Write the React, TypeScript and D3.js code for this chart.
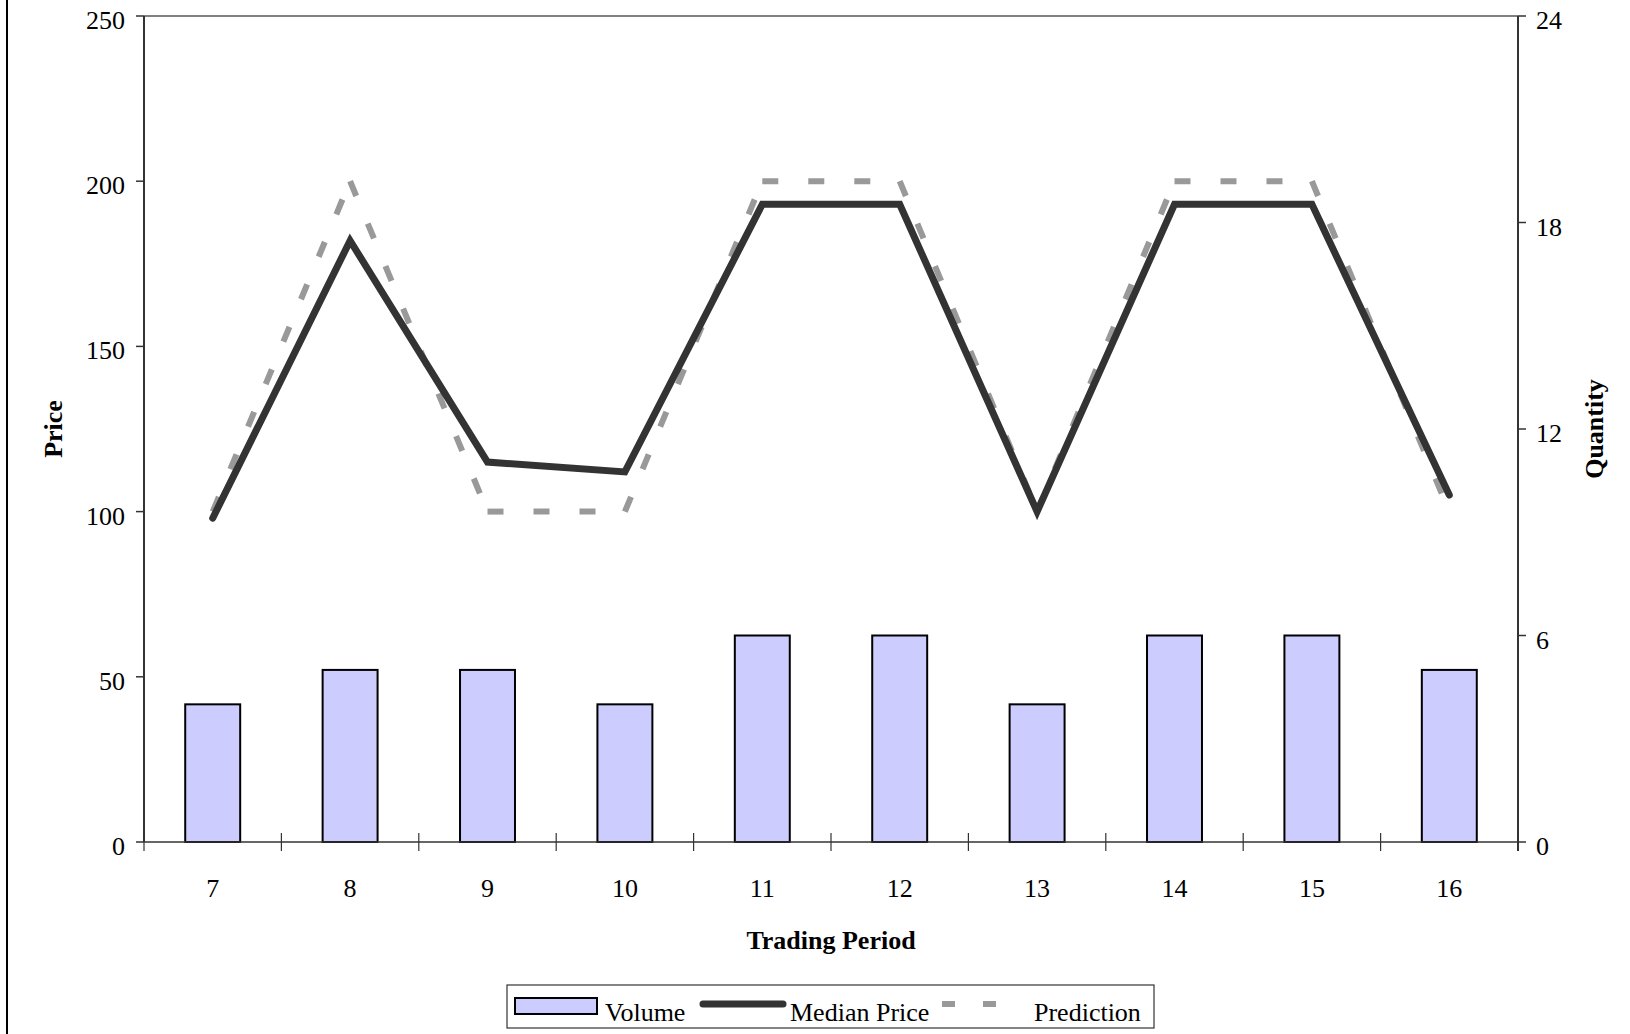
import React from "react";
import * as d3 from "d3";

// Trading periods shown on the category axis
const periods: number[] = [7, 8, 9, 10, 11, 12, 13, 14, 15, 16];
// Units traded per period (right axis)
const volume: number[] = [4, 5, 5, 4, 6, 6, 4, 6, 6, 5];
// Median transaction price per period (left axis)
const medianPrice: number[] = [98, 182, 115, 112, 193, 193, 100, 193, 193, 105];
// Theoretical prediction per period (left axis)
const prediction: number[] = [100, 200, 100, 100, 200, 200, 100, 200, 200, 100];

const priceTicks: number[] = [0, 50, 100, 150, 200, 250];
const quantityTicks: number[] = [0, 6, 12, 18, 24];

const W = 1630;
const H = 1034;
const left = 144;
const right = 1518;
const top = 16;
const bottom = 842;

const FONT = "'Liberation Serif', 'Times New Roman', serif";

export default function App() {
  const x = d3
    .scalePoint<number>()
    .domain(periods)
    .range([left, right])
    .padding(0.5);
  const step = x.step();
  const yPrice = d3.scaleLinear().domain([0, 250]).range([bottom, top]);
  const yQty = d3.scaleLinear().domain([0, 24]).range([bottom, top]);

  const priceLine = d3
    .line<number>()
    .x((_, i) => x(periods[i]) as number)
    .y((d) => yPrice(d));

  // prediction is dashed segment by segment, so each segment starts on a dash
  const predPts = prediction.map((v, i) => [x(periods[i]) as number, yPrice(v)] as [number, number]);
  const predSegments = d3.pairs(predPts);

  const barW = step * 0.4;
  const dividers = d3.range(periods.length + 1).map((k) => left + k * step);

  return (
    <div style={{ position: "absolute", left: 0, top: 0 }}>
      <svg width={W} height={H} style={{ display: "block", background: "#fff" }} fontFamily={FONT}>
        {/* outer frame edge */}
        <line x1={7} x2={7} y1={0} y2={H} stroke="#000" strokeWidth={2} />

        {/* top frame of plot area */}
        <line x1={left} x2={right} y1={top} y2={top} stroke="#808080" strokeWidth={2} />

        {/* volume bars */}
        {volume.map((v, i) => (
          <rect
            key={"b" + i}
            x={(x(periods[i]) as number) - barW / 2}
            y={yQty(v)}
            width={barW}
            height={yQty(0) - yQty(v)}
            fill="#CCCCFF"
            stroke="#000"
            strokeWidth={2}
          />
        ))}

        {/* axes */}
        <line x1={left} x2={left} y1={top} y2={bottom} stroke="#333" strokeWidth={2} />
        <line x1={right} x2={right} y1={top} y2={bottom + 9} stroke="#333" strokeWidth={2} />
        <line x1={left} x2={right} y1={bottom} y2={bottom} stroke="#333" strokeWidth={1.5} />

        {/* category dividers */}
        {dividers.map((dx, k) => (
          <line key={"d" + k} x1={dx} x2={dx} y1={bottom - 9} y2={bottom + 9} stroke="#333" strokeWidth={1.2} />
        ))}

        {/* left ticks */}
        {priceTicks.map((t) => (
          <g key={"lp" + t}>
            <line x1={left - 8} x2={left} y1={yPrice(t)} y2={yPrice(t)} stroke="#333" strokeWidth={1.5} />
            <text x={left - 19} y={yPrice(t) + 13} fontSize={26} textAnchor="end" fill="#000">
              {t}
            </text>
          </g>
        ))}

        {/* right ticks */}
        {quantityTicks.map((t) => (
          <g key={"rq" + t}>
            <line x1={right} x2={right + 8} y1={yQty(t)} y2={yQty(t)} stroke="#333" strokeWidth={1.5} />
            <text x={right + 18} y={yQty(t) + 13} fontSize={26} textAnchor="start" fill="#000">
              {t}
            </text>
          </g>
        ))}

        {/* category labels */}
        {periods.map((p) => (
          <text key={"x" + p} x={x(p) as number} y={897} fontSize={26} textAnchor="middle" fill="#000">
            {p}
          </text>
        ))}

        {/* prediction line */}
        {predSegments.map(([a, b], i) => (
          <line
            key={"p" + i}
            x1={a[0]}
            y1={a[1]}
            x2={b[0]}
            y2={b[1]}
            stroke="#999999"
            strokeWidth={6}
            strokeDasharray="16 30"
          />
        ))}

        {/* median price line */}
        <path
          d={priceLine(medianPrice) || ""}
          fill="none"
          stroke="#333333"
          strokeWidth={7}
          strokeLinecap="round"
          strokeLinejoin="miter"
        />

        {/* axis titles */}
        <text x={(left + right) / 2} y={949} fontSize={26} fontWeight="bold" textAnchor="middle" fill="#000">
          Trading Period
        </text>
        <text
          transform={`translate(62, ${(top + bottom) / 2}) rotate(-90)`}
          fontSize={26}
          fontWeight="bold"
          textAnchor="middle"
          fill="#000"
        >
          Price
        </text>
        <text
          transform={`translate(1603, ${(top + bottom) / 2}) rotate(-90)`}
          fontSize={26}
          fontWeight="bold"
          textAnchor="middle"
          fill="#000"
        >
          Quantity
        </text>

        {/* legend */}
        <g>
          <rect x={507} y={985} width={647} height={43} fill="#fff" stroke="#333" strokeWidth={1.2} />
          <rect x={515} y={998} width={82} height={16} fill="#CCCCFF" stroke="#000" strokeWidth={2} />
          <text x={605} y={1021} fontSize={26} fill="#000">Volume</text>
          <line x1={703} x2={783} y1={1004} y2={1004} stroke="#333333" strokeWidth={7} strokeLinecap="round" />
          <text x={790} y={1021} fontSize={26} fill="#000">Median Price</text>
          <line x1={942} x2={996} y1={1004} y2={1004} stroke="#999999" strokeWidth={6} strokeDasharray="13 28" />
          <text x={1034} y={1021} fontSize={26} fill="#000">Prediction</text>
        </g>
      </svg>
    </div>
  );
}
